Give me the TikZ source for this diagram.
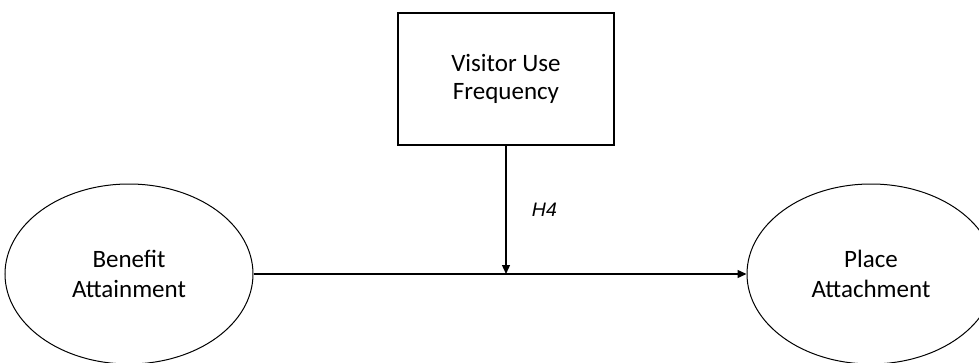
\documentclass[tikz,border=0pt]{standalone}
\usepackage{fontspec}
\setmainfont{Carlito}
\newfontfamily\hlabelfont{Liberation Sans}
\usepackage{tikz}
\usetikzlibrary{shapes.geometric, arrows.meta, positioning}

\begin{document}
\begin{tikzpicture}[
    x=1pt, y=1pt,
    construct/.style={ellipse, draw, line width=1pt, minimum width=248pt, minimum height=180pt, inner sep=0pt, align=center, font=\fontsize{25}{30}\selectfont},
    moderator/.style={rectangle, draw, line width=1.2pt, minimum width=216pt, minimum height=132pt, inner sep=0pt, align=center, font=\fontsize{25}{28}\selectfont},
    arrow/.style={-{Triangle[length=9pt, width=8pt]}, line width=1.3pt}
]

\useasboundingbox (0,0) rectangle (979,362);
\clip (0,0) rectangle (979,362);

\node[construct] (benefit) at (129,88) {Benefit\\Attainment};
\node[construct] (place) at (871,88) {Place\\Attachment};
\node[moderator] (freq) at (506,283) {Visitor Use\\Frequency};

\coordinate (mid) at (freq.south |- benefit.east);

\draw[arrow] (benefit.east) -- (place.west);
\draw[arrow] (freq.south) -- (mid) node[pos=0.5, right=22pt, font=\hlabelfont\itshape\fontsize{19.5}{22}\selectfont] (h4) {H4};

\end{tikzpicture}
\end{document}
